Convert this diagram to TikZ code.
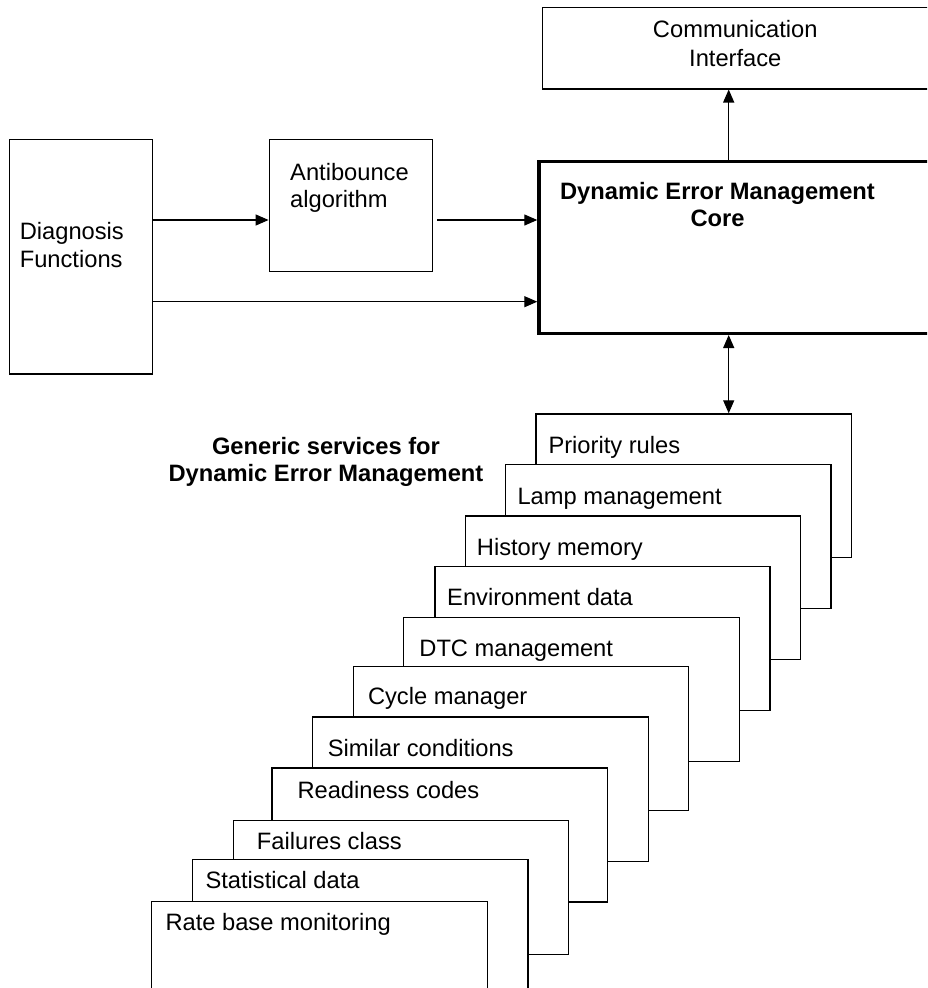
\documentclass[tikz,border=0pt]{standalone}
\usepackage{fontspec}
\setmainfont{Liberation Sans}
\usetikzlibrary{arrows.meta}

\begin{document}
\begin{tikzpicture}[
  x=1pt, y=-1pt,
  font=\fontsize{23.7}{27.4}\selectfont,
  block/.style={rectangle, draw=black, fill=white, line width=1.2pt, inner sep=0pt, anchor=north west},
  core/.style={block, line width=3.3pt},
  txt/.style={inner sep=0pt, anchor=base west, align=left},
  ctxt/.style={inner sep=0pt, anchor=base, align=center},
  arrow/.style={draw, -{Triangle[length=13pt, width=11pt]}, line width=1.2pt},
  biarrow/.style={draw, {Triangle[length=13pt, width=11pt]}-{Triangle[length=13pt, width=11pt]}, line width=1.2pt}
]
  \useasboundingbox (0,0) rectangle (927,988);
  \clip (0,0) rectangle (927,988);

  % upper part (two-line texts are placed by their last baseline)
  \node [block, minimum width=387.3pt, minimum height=81.6pt] (comm) at (541.7,6.7) {};
  \node [ctxt, font=\fontsize{23.7}{29.4}\selectfont] (commtxt) at (735.3,66.7) {Communication\\Interface};

  \node [core, minimum width=400pt, minimum height=171.7pt] (core) at (537.3,160) {};
  \node [ctxt, font=\fontsize{23.7}{27.4}\selectfont\bfseries] (coretxt) at (717.5,226.7) {Dynamic Error Management\\Core};

  \node [block, minimum width=142.9pt, minimum height=234.3pt] (diag) at (8.9,139) {};
  \node [txt, font=\fontsize{23.7}{28.4}\selectfont] (diagtxt) at (19.6,267.7) {Diagnosis\\Functions};

  \node [block, minimum width=163.5pt, minimum height=132pt] (anti) at (268.6,139) {};
  \node [txt, font=\fontsize{23.7}{27.7}\selectfont] (antitxt) at (290,207.7) {Antibounce\\algorithm};

  \coordinate (lvl1) at (0,220);
  \coordinate (lvl2) at (0,301.7);
  \coordinate (col) at (728.7,0);

  \draw [arrow] (diag.east |- lvl1) -- (anti.west |- lvl1);
  \draw [arrow] ([xshift=4pt]anti.east |- lvl1) -- (core.west |- lvl1);
  \draw [arrow] (diag.east |- lvl2) -- (core.west |- lvl2);
  \draw [arrow] (core.north -| col) -- (comm.south -| col);

  % generic services, back to front
  \node [ctxt, font=\fontsize{23.7}{27.4}\selectfont\bfseries] (gentxt) at (326,481.7) {Generic services for\\Dynamic Error Management};

  \node [block, minimum width=315.4pt, minimum height=143.4pt] (prio) at (535.3,413.3) {};
  \node [txt] (priotxt) at (548.3,453.3) {Priority rules};

  \node [block, minimum width=325.6pt, minimum height=144pt] (lamp) at (504.7,464) {};
  \node [txt] (lamptxt) at (517.3,504) {Lamp management};

  \node [block, minimum width=334.7pt, minimum height=143.2pt] (hist) at (465,515.3) {};
  \node [txt] (histtxt) at (476.7,555) {History memory};

  \node [block, minimum width=335pt, minimum height=144.3pt] (env) at (434.3,565.7) {};
  \node [txt] (envtxt) at (447,605.5) {Environment data};

  \node [block, minimum width=335.7pt, minimum height=143.7pt] (dtc) at (403,617) {};
  \node [txt] (dtctxt) at (419.2,656.5) {DTC management};

  \node [block, minimum width=335.7pt, minimum height=143.7pt] (cycle) at (352.5,666) {};
  \node [txt] (cycletxt) at (367.8,704.7) {Cycle manager};

  \node [block, minimum width=335.5pt, minimum height=144.4pt] (simil) at (312,716.3) {};
  \node [txt] (similtxt) at (327.7,756.3) {Similar conditions};

  \node [block, minimum width=335.4pt, minimum height=134pt] (ready) at (271.3,767.3) {};
  \node [txt] (readytxt) at (297.3,798) {Readiness codes};

  \node [block, minimum width=335.2pt, minimum height=134pt] (fail) at (232.5,819.7) {};
  \node [txt] (failtxt) at (256.7,849) {Failures class};

  \node [block, minimum width=335.3pt, minimum height=150pt] (stat) at (192,859) {};
  \node [txt] (stattxt) at (205.3,888) {Statistical data};

  \node [block, minimum width=336pt, minimum height=150pt] (rate) at (151,900.7) {};
  \node [txt] (ratetxt) at (165.3,930.7) {Rate base monitoring};

  \draw [biarrow] (core.south -| col) -- (prio.north -| col);
\end{tikzpicture}
\end{document}
